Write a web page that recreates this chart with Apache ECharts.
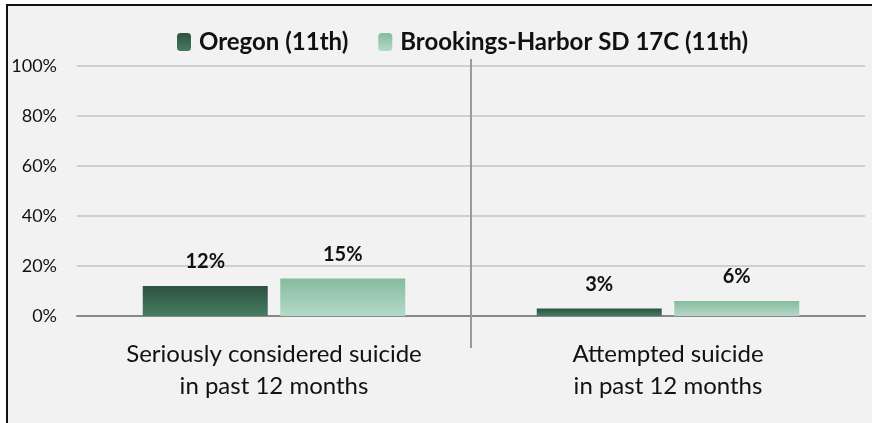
<!DOCTYPE html>
<html>
<head>
<meta charset="utf-8">
<script src="https://cdn.jsdelivr.net/npm/echarts@6/dist/echarts.min.js"></script>
<style>
	body { margin: 0; background: #ffffff; }
	#frame { position: absolute; left: 6px; top: 4px; width: 880px; height: 430px;
		background: #f2f2f2; border-top: 2px solid #111; border-left: 2px solid #111; }
	#main { position: absolute; left: 0; top: 0; width: 872px; height: 423px; }
</style>
</head>
<body>
<div id="frame"></div>
<div id="main"></div>
<script>
// 카테고리, 시리즈 값
let categories = ['Seriously considered suicide\nin past 12 months', 'Attempted suicide\nin past 12 months'];
let seriesNames = ['Oregon (11th)', 'Brookings-Harbor SD 17C (11th)'];
let oregonValues = [12, 3];
let schoolValues = [15, 6];
let yTicks = [0, 20, 40, 60, 80, 100];

let font = 'Lato, "Open Sans", sans-serif';

// 막대 그라데이션
function grad(top, bottom){
	return new echarts.graphic.LinearGradient(0, 0, 0, 1, [
		{offset: 0, color: top},
		{offset: 1, color: bottom}
	]);
}

var myChart = echarts.init(document.getElementById('main'));

var option = {
	animation: false,
	textStyle: { fontFamily: font },
	legend: {
		top: 25,
		left: 172,
		itemWidth: 14,
		itemHeight: 18,
		itemGap: 30,
		textStyle: { fontFamily: font, fontWeight: 'bold', fontSize: 24, color: '#111',
			padding: [0, 0, 0, 3] },
		data: seriesNames
	},
	grid: { left: 77, right: 7, top: 66, bottom: 107 },
	xAxis: {
		type: 'category',
		data: categories,
		axisLine: { lineStyle: { color: '#888', width: 2 } },
		axisTick: { length: 9, lineStyle: { color: '#888', width: 2 } },
		axisLabel: { fontFamily: font, fontSize: 24, color: '#111', lineHeight: 32, margin: 22 },
		splitLine: { show: false }
	},
	yAxis: {
		type: 'value',
		min: yTicks[0],
		max: yTicks[yTicks.length - 1],
		interval: yTicks[1] - yTicks[0],
		axisLine: { show: false },
		axisTick: { show: false },
		axisLabel: { fontFamily: font, fontSize: 18, color: '#111', margin: 20,
			formatter: function(v){ return v + '%'; } },
		splitLine: { lineStyle: { color: '#c3c3c3', width: 1.5 } }
	},
	series: [
		{
			name: seriesNames[0],
			type: 'bar',
			data: oregonValues,
			barWidth: 125,
			barGap: '10%',
			itemStyle: { color: grad('#2d5241', '#467c60') },
			label: { show: true, position: 'top', distance: 14, fontFamily: font,
				fontWeight: 'bold', fontSize: 20, color: '#111',
				formatter: function(p){ return p.value + '%'; } }
		},
		{
			name: seriesNames[1],
			type: 'bar',
			data: schoolValues,
			barWidth: 125,
			barGap: '10%',
			itemStyle: { color: grad('#86bb9f', '#b4d9c7') },
			label: { show: true, position: 'top', distance: 14, fontFamily: font,
				fontWeight: 'bold', fontSize: 20, color: '#111',
				formatter: function(p){ return p.value + '%'; } }
		}
	]
};
myChart.setOption(option);

// 카테고리 사이 구분선 (축 좌표로 계산)
let c0 = myChart.convertToPixel({xAxisIndex: 0}, 0);
let c1 = myChart.convertToPixel({xAxisIndex: 0}, 1);
let midX = (c0 + c1) / 2;
let topY = myChart.convertToPixel({yAxisIndex: 0}, yTicks[yTicks.length - 1]) - 7;
let botY = myChart.convertToPixel({yAxisIndex: 0}, 0) + 32;
myChart.setOption({
	graphic: [{
		type: 'line',
		shape: { x1: midX, y1: topY, x2: midX, y2: botY },
		style: { stroke: '#9a9a9a', lineWidth: 2 },
		z: 1
	}]
});
</script>
</body>
</html>
